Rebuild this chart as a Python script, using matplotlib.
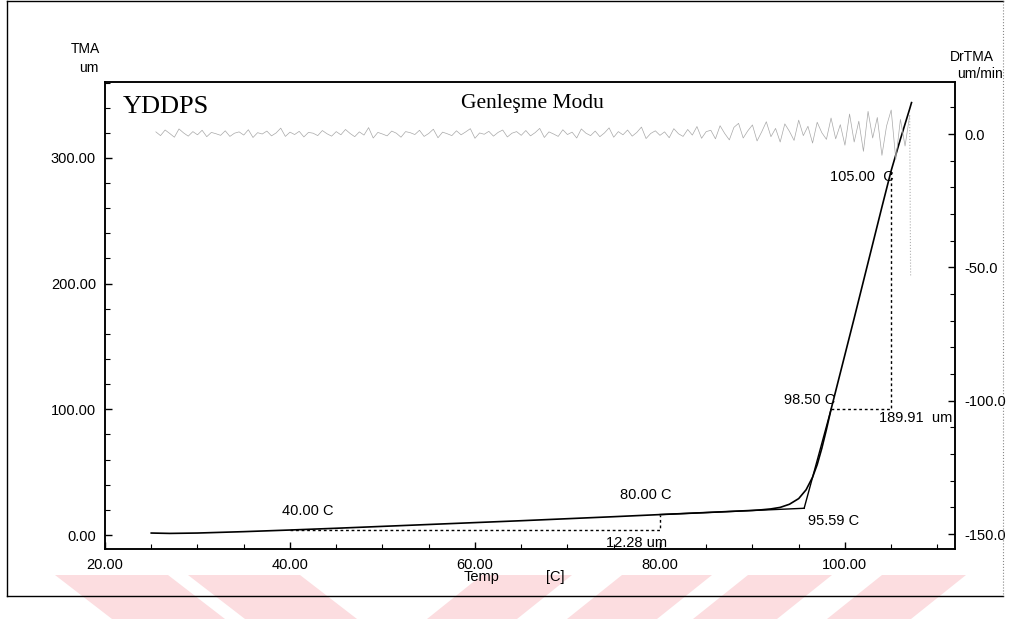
import numpy as np
import matplotlib.pyplot as plt
from matplotlib.patches import Polygon
from matplotlib.lines import Line2D
from matplotlib.ticker import MultipleLocator, FormatStrFormatter

plt.rcParams['font.family'] = ['Liberation Sans', 'DejaVu Sans']

# TMA egrisi: sicaklik (C) ve uzama (um)
tma_temp = [25, 27, 30, 35, 40, 45, 50, 55, 60, 65, 70, 75, 80, 85, 90,
            91, 92, 93, 94, 95, 95.8, 96.5, 97, 97.5, 98, 98.5, 99, 100,
            101, 102, 103, 104, 105, 106, 107, 107.2]
tma_um = [1.6, 1.3, 1.6, 2.7, 4.0, 5.4, 6.9, 8.4, 9.9, 11.4, 13.0, 14.6,
          16.28, 17.9, 19.6, 20.1, 20.8, 22.0, 24.5, 29.0, 36.0, 46.0, 56.0,
          69.0, 84.0, 100.0, 114.5, 143.5, 172.5, 202.0, 231.5, 261.0,
          289.91, 315.0, 339.0, 344.0]

# DrTMA (um/min), 0.5 C aralikla
dr_temp = np.arange(25.5, 107.01, 0.5).tolist() + [107.1]
dr_vals = [
    0.8, -0.6, 1.5, 0.2, -1.2, 1.9, 0.4, -0.8, 0.9, -0.3, 1.4, -1.0, 0.6, 0.1,
    -0.5, 1.2, -0.9, 0.3, 0.8, -0.4, 1.6, -1.3, 0.5, 0.0, 1.1, -0.7, 0.4, 2.2,
    -0.9, 0.7, -0.2, 1.0, -1.1, 0.6, 0.3, -0.6, 1.3, 0.1, -0.8, 0.9,
    -0.3, 1.7, 0.2, -1.0, 0.8, -0.4, 2.4, -1.5, 0.6, 0.0, -0.7, 1.1, 0.3, -1.2,
    0.9, 0.5, -0.2, 1.4, -0.9, 0.2, 1.8, -1.4, 0.7, 0.1, -0.6, 1.2, -0.3, 0.8,
    2.0, -1.6, 0.4, -0.1, 1.0, -0.8, 0.6, 1.5, -1.1, 0.3, 0.9, -0.5,
    1.3, -0.7, 0.5, 2.1, -1.3, 0.8, 0.0, -0.9, 1.6, -0.2, 0.7, -1.5, 1.9, 0.3,
    -0.6, 1.1, -1.0, 0.4, 2.3, -1.2, 0.9, -0.3, 1.5, -0.8, 0.6, 2.6, -1.7, 0.2,
    1.2, -0.5, 0.8, -1.4, 2.0, 0.1, -0.9, 1.7, -0.4, 2.8, -1.6, 0.9,
    1.4, -1.8, 3.1, 0.2, -2.2, 2.5, 4.0, -1.5, 1.2, 3.4, -2.6, 0.8, 4.6, -1.0,
    2.1, -3.0, 3.8, 1.0, -2.4, 5.2, -0.6, 2.9, -3.4, 4.4, 0.5, -2.0, 6.0, -1.8,
    3.5, -4.2,
    7.5, -3.0, 4.8, -6.5, 8.5, -1.5, 6.2, -8.0, 3.0, 9.0, -9.5, 5.5, -4.5, 7.0,
    -53.0]

# analiz noktalari
t40, u40 = 40.0, 4.0
t80, u80 = 80.0, 16.28
t985, u985 = 98.5, 100.0
t105, u105 = 105.0, 289.91
onset_t, onset_u = 95.59, 21.3

x_ticks = [20, 40, 60, 80, 100]
left_ticks = [0, 100, 200, 300]
right_ticks = [0, -50, -100, -150]

fig = plt.figure(figsize=(10.30, 6.19), dpi=100)

# arka plandaki pembe seritler
stripes = [
    [(55, 575), (168, 575), (225, 619), (112, 619)],
    [(188, 575), (300, 575), (357, 619), (245, 619)],
    [(482, 575), (572, 575), (517, 619), (427, 619)],
    [(622, 575), (712, 575), (657, 619), (567, 619)],
    [(748, 575), (832, 575), (777, 619), (693, 619)],
    [(882, 575), (966, 575), (911, 619), (827, 619)],
]
for s in stripes:
    pts = [(x / 1030, 1 - y / 619) for x, y in s]
    fig.patches.append(Polygon(pts, closed=True, transform=fig.transFigure,
                               facecolor='#fcdde0', edgecolor='none', zorder=0))

# dis cerceve
fr = dict(transform=fig.transFigure, color='black', lw=1.0)
fig.lines.append(Line2D([7 / 1030, 1003 / 1030], [1 - 1 / 619, 1 - 1 / 619], **fr))
fig.lines.append(Line2D([7 / 1030, 7 / 1030], [1 - 1 / 619, 1 - 596 / 619], **fr))
fig.lines.append(Line2D([7 / 1030, 1003 / 1030], [1 - 596 / 619, 1 - 596 / 619], **fr))
fig.lines.append(Line2D([1003 / 1030, 1003 / 1030], [1 - 1 / 619, 1 - 596 / 619],
                        transform=fig.transFigure, color='#888888', lw=0.8, ls=':'))

ax = fig.add_axes([105 / 1030, 1 - 549 / 619, 850 / 1030, 467 / 619])
ax.set_xlim(20, 111.9)
ax.set_ylim(-11.1, 360.4)
ax2 = ax.twinx()
ax2.set_ylim(-155.6, 19.5)

# DrTMA
ax2.plot(dr_temp[:-1], dr_vals[:-1], color='#a8a8a8', lw=0.5)
ax2.plot(dr_temp[-2:], dr_vals[-2:], color='#b0b0b0', lw=0.8, ls=':')

# TMA
ax.plot(tma_temp, tma_um, color='black', lw=1.2)

# teget cizgileri
ax.plot([t80, onset_t], [u80, onset_u], color='black', lw=1.0)
ax.plot([onset_t, t985], [onset_u, u985], color='black', lw=1.0)

# 40-80 C farki
ax.plot([t40, t80, t80], [u40, u40, u80], color='black', lw=1.0, ls=(0, (2, 2)))
# 98.5-105 C farki
ax.plot([t985, t105, t105], [u985, u985, u105], color='black', lw=1.0, ls=(0, (2, 2)))

tk = dict(fontsize=10.5, ha='center', va='center')
ax.text(41.9, 19.1, '%.2f C' % t40, **tk)
ax.text(78.5, 31.8, '%.2f C' % t80, **tk)
ax.text(77.5, -6.4, '%.2f um' % (u80 - u40), **tk)
ax.text(98.8, 11.1, '%.2f C' % onset_t, **tk)
ax.text(96.2, 107.4, '%.2f C' % t985, **tk)
ax.text(107.6, 93.0, '%.2f  um' % (u105 - u985), **tk)
ax.text(101.8, 284.8, '%.2f  C' % t105, **tk)

ax.text(0.021, 0.946, 'YDDPS', transform=ax.transAxes, fontsize=19,
        family='Liberation Serif', ha='left', va='center')
ax.text(0.503, 0.953, 'Genleşme Modu', transform=ax.transAxes, fontsize=15.5,
        family='Liberation Serif', ha='center', va='center')

# eksenler
ax.set_xticks(x_ticks)
ax.set_yticks(left_ticks)
ax2.set_yticks(right_ticks)
ax.xaxis.set_major_formatter(FormatStrFormatter('%.2f'))
ax.yaxis.set_major_formatter(FormatStrFormatter('%.2f'))
ax2.yaxis.set_major_formatter(FormatStrFormatter('%.1f'))
ax.xaxis.set_minor_locator(MultipleLocator(5))
ax.yaxis.set_minor_locator(MultipleLocator(20))
ax2.yaxis.set_minor_locator(MultipleLocator(10))

for a in (ax, ax2):
    a.tick_params(which='major', direction='in', length=5, width=1,
                  labelsize=10.5, pad=6.5)
    a.tick_params(which='minor', direction='in', length=3.5, width=0.8)
    for sp in a.spines.values():
        sp.set_linewidth(1.1)

fig.text(100 / 1030, 1 - 49 / 619, 'TMA', fontsize=10, ha='right', va='center')
fig.text(99 / 1030, 1 - 68 / 619, 'um', fontsize=10, ha='right', va='center')
fig.text(972 / 1030, 1 - 57 / 619, 'DrTMA', fontsize=10, ha='center', va='center')
fig.text(980 / 1030, 1 - 74 / 619, 'um/min', fontsize=10, ha='center', va='center')
fig.text(482 / 1030, 1 - 577 / 619, 'Temp', fontsize=10.5, ha='center', va='center')
fig.text(555 / 1030, 1 - 577 / 619, '[C]', fontsize=10.5, ha='center', va='center')

fig.savefig('out.png', dpi=100)
